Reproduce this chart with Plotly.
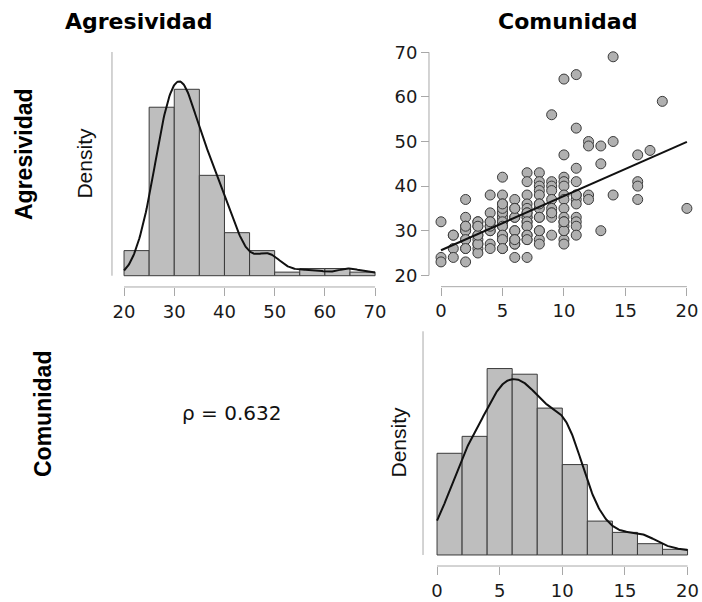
import numpy as np
import pandas as pd
import plotly.graph_objects as go

comunidad = (
    [0] * 3 + [1] * 4 + [2] * 11 + [3] * 11 + [4] * 10 + [5] * 20 + [6] * 13
    + [7] * 18 + [8] * 14 + [9] * 10 + [10] * 16 + [11] * 12 + [12] * 4
    + [13] * 3 + [14] * 3 + [16] * 4 + [17] + [18] + [20]
)
agresividad = (
    [32, 24, 23]
    + [29, 26, 24, 29]
    + [37, 33, 31, 30, 28, 26, 23, 30, 28, 31, 26]
    + [32, 31, 29, 28, 27, 26, 25, 27, 29, 32, 31]
    + [38, 34, 32, 31, 30, 27, 26, 30, 31, 32]
    + [42, 38, 36, 35, 34, 33, 32, 31, 29, 28, 26, 33, 34, 32, 31, 35, 29, 28, 26, 36]
    + [37, 35, 33, 30, 28, 27, 24, 33, 35, 30, 28, 27, 28]
    + [43, 41, 38, 36, 35, 34, 33, 32, 31, 29, 28, 24, 33, 34, 32, 31, 29, 28]
    + [43, 41, 40, 39, 38, 36, 35, 33, 30, 28, 27, 33, 30, 36]
    + [56, 41, 40, 39, 37, 35, 34, 33, 29, 34]
    + [64, 47, 42, 41, 40, 38, 37, 35, 33, 32, 31, 30, 28, 27, 30, 32]
    + [65, 53, 44, 41, 38, 37, 36, 33, 32, 31, 29, 38]
    + [50, 49, 38, 37]
    + [49, 45, 30]
    + [69, 50, 38]
    + [47, 41, 40, 37]
    + [48] + [59] + [35]
)

agr_breaks = list(range(20, 75, 5))
com_breaks = list(range(0, 22, 2))
agr_ticks = [20, 30, 40, 50, 60, 70]
com_ticks = [0, 5, 10, 15, 20]
rho_text = "\u03c1 = 0.632"

x = np.array(comunidad, dtype=float)
y = np.array(agresividad, dtype=float)

BAR = "#BEBEBE"
EDGE = "#3A3A3A"
AXC = "#A8A8A8"
TICKFONT = dict(family="DejaVu Sans", size=18, color="#1a1a1a")


def hist_density(v, breaks):
    # right-closed bins, like R's hist()
    cats = pd.cut(v, breaks, right=True, include_lowest=True)
    counts = pd.Series(cats).value_counts(sort=False).sort_index().values
    w = np.diff(breaks)
    dens = counts / (len(v) * w)
    mids = np.array(breaks[:-1]) + w / 2
    return mids, dens, w


def kde(v, lo, hi):
    n = len(v)
    iqr = np.subtract(*np.percentile(v, [75, 25]))
    bw = 0.9 * min(np.std(v, ddof=1), iqr / 1.34) * n ** -0.2
    g = np.linspace(lo, hi, 300)
    d = np.exp(-0.5 * ((g[:, None] - v[None, :]) / bw) ** 2).sum(1) / (n * bw * np.sqrt(2 * np.pi))
    return g, d


am, ad, aw = hist_density(y, agr_breaks)
cm, cd, cw = hist_density(x, com_breaks)
ag, akd = kde(y, agr_breaks[0], agr_breaks[-1])
cg, ckd = kde(x, com_breaks[0], com_breaks[-1])
slope, icpt = np.polyfit(x, y, 1)
lx = np.array([x.min(), x.max()])

fig = go.Figure()
fig.add_trace(go.Bar(x=am, y=ad, width=aw, marker=dict(color=BAR, line=dict(color=EDGE, width=1)),
                     xaxis="x", yaxis="y"))
fig.add_trace(go.Scatter(x=ag, y=akd, mode="lines", line=dict(color="#111", width=2), xaxis="x", yaxis="y"))
fig.add_trace(go.Scatter(x=x, y=y, mode="markers",
                         marker=dict(size=10, color="#B0B0B0", line=dict(color="#3a3a3a", width=1)),
                         xaxis="x2", yaxis="y2"))
fig.add_trace(go.Scatter(x=lx, y=icpt + slope * lx, mode="lines", line=dict(color="#111", width=2),
                         xaxis="x2", yaxis="y2"))
fig.add_trace(go.Bar(x=cm, y=cd, width=cw, marker=dict(color=BAR, line=dict(color=EDGE, width=1)),
                     xaxis="x3", yaxis="y3"))
fig.add_trace(go.Scatter(x=cg, y=ckd, mode="lines", line=dict(color="#111", width=2), xaxis="x3", yaxis="y3"))

top_dom = [0.5279, 0.9279]
bot_dom = [0.0640, 0.4640]
xa = dict(showgrid=False, zeroline=False, showline=False, ticks="outside", ticklen=8,
          tickcolor=AXC, tickfont=TICKFONT, anchor="free", automargin=False)

fig.update_layout(
    width=702, height=602, autosize=False,
    margin=dict(l=0, r=0, t=0, b=0, autoexpand=False),
    paper_bgcolor="white", plot_bgcolor="white",
    showlegend=False,
    xaxis=dict(xa, domain=[0.1624, 0.5486], range=[18, 72], tickvals=agr_ticks, position=0.5233),
    yaxis=dict(domain=top_dom, range=[-0.0456 * ad.max(), 1.2462 * ad.max()], visible=False),
    xaxis2=dict(xa, domain=[0.6142, 0.9925], range=[-0.8, 20.8], tickvals=com_ticks, position=0.5238),
    yaxis2=dict(xa, domain=top_dom, range=[18, 72], tickvals=agr_ticks, position=0.6111),
    xaxis3=dict(xa, domain=[0.6083, 0.9937], range=[-0.8, 20.8], tickvals=com_ticks, position=0.0598),
    yaxis3=dict(domain=bot_dom, range=[-0.0456 * cd.max(), 1.2462 * cd.max()], visible=False),
)

line = dict(color=AXC, width=1)
fig.add_shape(type="line", xref="x", yref="paper", x0=agr_ticks[0], x1=agr_ticks[-1], y0=0.5233, y1=0.5233, line=line)
fig.add_shape(type="line", xref="x2", yref="paper", x0=com_ticks[0], x1=com_ticks[-1], y0=0.5238, y1=0.5238, line=line)
fig.add_shape(type="line", xref="paper", yref="y2", x0=0.6111, x1=0.6111, y0=agr_ticks[0], y1=agr_ticks[-1], line=line)
fig.add_shape(type="line", xref="x3", yref="paper", x0=com_ticks[0], x1=com_ticks[-1], y0=0.0598, y1=0.0598, line=line)
fig.add_shape(type="line", xref="paper", yref="y", x0=0.1595, x1=0.1595, y0=0, y1=1.2 * ad.max(), line=line)
fig.add_shape(type="line", xref="paper", yref="y3", x0=0.6026, x1=0.6026, y0=0, y1=1.2 * cd.max(), line=line)

title_font = dict(family="DejaVu Sans", size=22, color="black")
side_font = dict(family="Liberation Sans", size=23, color="black")
dens_font = dict(family="Liberation Sans", size=21, color="#111")
ann = [
    dict(text="<b>Agresividad</b>", x=0.198, y=0.9635, font=title_font),
    dict(text="<b>Comunidad</b>", x=0.8077, y=0.9635, font=title_font),
    dict(text="<b>Agresividad</b>", x=0.0342, y=0.7442, font=side_font, textangle=-90),
    dict(text="<b>Comunidad</b>", x=0.0613, y=0.3123, font=side_font, textangle=-90),
    dict(text="Density", x=0.119, y=0.7292, font=dens_font, textangle=-90),
    dict(text="Density", x=0.567, y=0.265, font=dens_font, textangle=-90),
    dict(text=rho_text, x=0.3298, y=0.3145, font=dict(family="DejaVu Sans", size=20, color="#111")),
]
for a in ann:
    fig.add_annotation(xref="paper", yref="paper", showarrow=False, xanchor="center", yanchor="middle", **a)

# drop the browser's default 8px body margin so the figure sits at the page origin
fig.write_html("out.html", config={"displayModeBar": False},
               post_script="document.body.style.margin='0';")
